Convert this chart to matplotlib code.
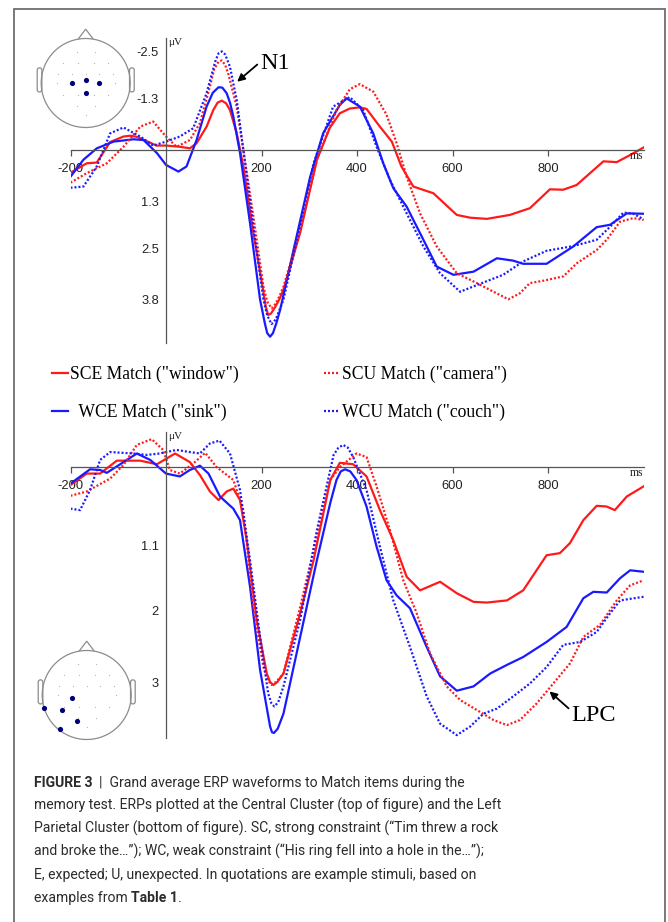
import matplotlib
matplotlib.use("Agg")
import matplotlib.pyplot as plt
from matplotlib.patches import Circle, Polygon, FancyBboxPatch, Rectangle

plt.rcParams['axes.unicode_minus'] = False

W, H = 668, 922

# ---- Central cluster (top panel): time in ms, amplitude in uV ----
c_sce_t = [-200, -166, -145, -117, -89, -75, -60, -20, 0, 29, 50, 64, 85, 99, 108, 117, 126, 134, 148, 162,
           183, 204, 209, 214, 220, 228, 237, 246, 281, 316, 343, 364, 385, 406, 420, 448, 473, 493, 518, 560,
           609, 637, 672, 720, 762, 804, 832, 860, 916, 944, 972, 1000]
c_sce_v = [0.58, 0.34, 0.32, -0.2, -0.34, -0.36, -0.33, -0.11, -0.11, -0.08, -0.04, -0.17, -0.59, -1.01, -1.2,
           -1.25, -1.18, -1.01, -0.43, 0.42, 2.1, 3.6, 3.98, 4.19, 4.15, 4.0, 3.8, 3.55, 2.1, 0.25, -0.56, -0.93,
           -1.05, -1.08, -1.04, -0.59, -0.21, 0.42, 0.93, 1.1, 1.65, 1.72, 1.75, 1.65, 1.48, 1.0, 1.01, 0.89,
           0.29, 0.31, 0.13, -0.06]

c_wce_t = [-200, -173, -145, -110, -68, -47, -19, 0, 26, 43, 64, 85, 98, 110, 118, 127, 134, 141, 155, 176,
           197, 207, 212, 218, 224, 231, 239, 267, 302, 329, 364, 378, 406, 434, 455, 476, 504, 539, 567, 602,
           644, 693, 727, 748, 797, 853, 902, 930, 965, 1000]
c_wce_v = [0.68, 0.25, -0.04, -0.21, -0.27, -0.25, 0.08, 0.38, 0.55, 0.42, -0.25, -1.1, -1.45, -1.59, -1.58,
           -1.44, -1.2, -0.85, 0.08, 1.86, 3.8, 4.4, 4.65, 4.74, 4.65, 4.4, 4.06, 2.54, 0.68, -0.42, -1.14, -1.31,
           -1.1, -0.42, 0.34, 0.97, 1.44, 2.28, 2.96, 3.17, 3.09, 2.75, 2.81, 2.89, 2.89, 2.45, 1.96, 1.9, 1.61,
           1.62]

c_scu_t = [-200, -166, -124, -89, -54, -27, 0, 22, 50, 71, 92, 101, 110, 117, 124, 130, 148, 162, 183, 204,
           212, 221, 230, 238, 246, 281, 316, 357, 385, 406, 434, 462, 483, 504, 532, 567, 609, 651, 686, 717,
           741, 762, 790, 832, 860, 902, 923, 951, 979, 1000]
c_scu_v = [0.83, 0.59, 0.34, -0.08, -0.59, -0.72, -0.34, -0.08, -0.25, -0.68, -1.61, -2.05, -2.24, -2.27, -2.15,
           -1.95, -1.1, 0.0, 1.69, 3.47, 3.85, 4.02, 3.9, 3.7, 3.47, 2.03, 0.25, -1.01, -1.54, -1.67, -1.48, -0.89,
           -0.17, 0.68, 1.61, 2.45, 3.13, 3.38, 3.6, 3.79, 3.64, 3.38, 3.32, 3.21, 2.88, 2.54, 2.28, 1.82, 1.73,
           1.78]

c_wcu_t = [-200, -173, -145, -117, -89, -54, -27, 0, 29, 57, 85, 103, 110, 117, 124, 134, 148, 162, 183, 204,
           212, 221, 230, 238, 246, 274, 309, 350, 385, 413, 441, 469, 504, 539, 574, 616, 651, 706, 748, 797,
           853, 902, 930, 958, 979, 1000]
c_wcu_v = [0.96, 0.93, 0.42, -0.42, -0.57, -0.34, -0.11, -0.21, -0.34, -0.55, -1.44, -2.24, -2.45, -2.5, -2.42,
           -2.11, -1.27, 0.0, 1.95, 3.8, 4.2, 4.42, 4.3, 4.05, 3.8, 2.28, 0.34, -1.1, -1.34, -1.01, -0.08, 0.76,
           1.61, 2.45, 3.13, 3.6, 3.43, 3.17, 2.83, 2.56, 2.44, 2.28, 1.95, 1.59, 1.62, 1.76]

# ---- Left parietal cluster (bottom panel) ----
p_sce_t = [-200, -166, -138, -103, -54, -19, 19, 50, 71, 92, 110, 127, 141, 155, 169, 190, 211, 218, 225, 233,
           246, 281, 309, 344, 364, 392, 420, 448, 476, 504, 532, 574, 609, 644, 672, 714, 748, 776, 797, 825,
           846, 874, 902, 923, 940, 965, 1000]
p_sce_v = [0.25, 0.09, 0.09, -0.09, -0.09, -0.04, -0.19, -0.07, 0.11, 0.34, 0.46, 0.34, 0.3, 0.46, 1.02, 2.13,
           2.88, 3.0, 3.04, 3.0, 2.88, 2.04, 1.3, 0.18, -0.06, -0.04, 0.13, 0.6, 1.02, 1.53, 1.72, 1.6, 1.76,
           1.88, 1.89, 1.86, 1.72, 1.44, 1.23, 1.2, 1.06, 0.74, 0.54, 0.55, 0.6, 0.41, 0.27]

p_wce_t = [-200, -159, -138, -124, -89, -61, -33, 0, 29, 50, 71, 89, 113, 141, 155, 176, 197, 218, 222, 226,
           234, 246, 281, 316, 344, 357, 366, 375, 386, 399, 420, 441, 462, 483, 511, 546, 574, 609, 644, 679,
           714, 748, 797, 839, 874, 895, 923, 951, 972, 1000]
p_wce_v = [0.23, 0.03, 0.04, 0.08, -0.07, -0.19, -0.1, 0.09, 0.13, 0.04, -0.02, 0.09, 0.41, 0.58, 0.74, 1.67,
           2.83, 3.62, 3.7, 3.71, 3.65, 3.44, 2.37, 1.3, 0.5, 0.18, 0.06, 0.03, 0.06, 0.18, 0.55, 1.11, 1.58,
           1.79, 1.97, 2.51, 2.92, 3.12, 3.06, 2.88, 2.76, 2.65, 2.44, 2.23, 1.83, 1.74, 1.75, 1.55, 1.44, 1.46]

p_scu_t = [-200, -166, -117, -89, -61, -30, -6, 8, 29, 57, 82, 106, 141, 162, 183, 204, 213, 221, 230, 246,
           281, 316, 344, 364, 399, 420, 441, 469, 497, 525, 553, 588, 616, 651, 686, 714, 741, 776, 811, 846,
           874, 909, 944, 972, 1000]
p_scu_v = [0.4, 0.34, 0.16, -0.03, -0.31, -0.39, -0.24, 0.04, 0.09, -0.05, -0.2, 0.0, 0.18, 0.6, 1.95, 2.79,
           2.97, 3.04, 3.0, 2.88, 1.95, 0.97, 0.18, 0.0, -0.19, -0.14, 0.27, 0.88, 1.58, 2.04, 2.6, 3.06, 3.25,
           3.39, 3.53, 3.6, 3.53, 3.3, 3.02, 2.74, 2.37, 2.2, 1.86, 1.65, 1.58]

p_wcu_t = [-200, -180, -159, -138, -117, -68, -40, -13, 22, 50, 71, 92, 112, 134, 155, 176, 197, 214, 221, 227,
           235, 246, 281, 316, 351, 361, 371, 381, 392, 420, 448, 476, 511, 546, 574, 609, 637, 665, 693, 727,
           762, 797, 832, 867, 902, 930, 951, 1000]
p_wcu_v = [0.58, 0.6, 0.32, -0.1, -0.21, -0.19, -0.17, -0.19, -0.24, -0.21, -0.19, -0.33, -0.37, -0.19, 0.32,
           1.3, 2.37, 3.16, 3.3, 3.34, 3.28, 3.06, 2.13, 0.88, -0.17, -0.27, -0.31, -0.27, -0.14, 0.32, 1.11,
           1.86, 2.51, 3.2, 3.58, 3.74, 3.62, 3.44, 3.37, 3.2, 3.02, 2.79, 2.48, 2.44, 2.3, 2.04, 1.86, 1.81]

labels = ['SCE Match ("window")', '  WCE Match ("sink")', 'SCU Match ("camera")', 'WCU Match ("couch")']
top_yticks = [-2.5, -1.3, 1.3, 2.5, 3.8]
bot_yticks = [1.1, 2, 3]
xticks = [-200, 200, 400, 600, 800]

# electrode layout in head units (y up), shared grid plus highlighted sites per cluster
grid_x = [-0.2, 0.2, -0.51, -0.18, 0.18, 0.51, -0.62, -0.3, 0.0, 0.3, 0.62, -0.65, 0.65,
          -0.51, -0.18, 0.18, 0.51, -0.2, 0.2, 0.0]
grid_y = [0.69, 0.69, 0.44, 0.44, 0.44, 0.44, 0.21, 0.21, 0.21, 0.21, 0.21, 0.0, 0.0,
          -0.27, -0.27, -0.27, -0.27, -0.51, -0.51, -0.72]
central_x = [-0.3, 0.0, 0.31, 0.0]
central_y = [0.0, 0.07, 0.0, -0.23]
parietal_x = [-0.34, -0.96, -0.55, -0.21, -0.61]
parietal_y = [-0.07, -0.29, -0.34, -0.58, -0.77]

RED, BLUE = '#ff1a1a', '#1a1aff'
DOTS = (0, (0.9, 0.9))
serif = 'Liberation Serif'
sans = 'Liberation Sans'


def px_box(x0, y0, x1, y1):
    return [x0 / W, 1 - y1 / H, (x1 - x0) / W, (y1 - y0) / H]


fig = plt.figure(figsize=(W / 100, H / 100), dpi=100)


def erp_panel(rect, ylim, yticks, series):
    ax = fig.add_axes(rect)
    ax.patch.set_alpha(0)
    lines = []
    for t, v, col, ls in series:
        ln, = ax.plot(t, v, color=col, lw=1.6, linestyle=ls, solid_joinstyle='round')
        lines.append(ln)
    ax.set_xlim(-200, 1000)
    ax.set_ylim(*ylim)
    for s in ['top', 'right']:
        ax.spines[s].set_visible(False)
    ax.spines['left'].set_position(('data', 0))
    ax.spines['bottom'].set_position(('data', 0))
    for s in ['left', 'bottom']:
        ax.spines[s].set_color('#555555')
        ax.spines[s].set_linewidth(0.9)
    ax.set_xticks(xticks)
    ax.set_yticks(yticks)
    ax.set_yticklabels([str(y) for y in yticks])
    ax.tick_params(axis='x', direction='out', length=4.3, width=0.9, pad=5, color='#555555',
                   labelsize=9.3, labelcolor='#222222')
    ax.tick_params(axis='y', length=0, pad=5, labelsize=9.3, labelcolor='#222222')
    for lab in ax.get_xticklabels() + ax.get_yticklabels():
        lab.set_family(sans)
    ax.text(4, ylim[1], 'μV', family=serif, fontsize=8, va='top', ha='left', color='#222222')
    ax.text(1000, 0, 'ms', family=serif, fontsize=8.5, va='top', ha='right', color='#222222')
    return ax, lines


top, handles = erp_panel(px_box(70.5, 38, 643.5, 343), (4.9, -2.84), top_yticks,
                         [(c_sce_t, c_sce_v, RED, '-'), (c_wce_t, c_wce_v, BLUE, '-'),
                          (c_scu_t, c_scu_v, RED, DOTS), (c_wcu_t, c_wcu_v, BLUE, DOTS)])
bot, _ = erp_panel(px_box(70.5, 432, 643.5, 738), (3.78, -0.49), bot_yticks,
                   [(p_sce_t, p_sce_v, RED, '-'), (p_wce_t, p_wce_v, BLUE, '-'),
                    (p_scu_t, p_scu_v, RED, DOTS), (p_wcu_t, p_wcu_v, BLUE, DOTS)])

arrow = dict(arrowstyle='-|>', color='black', lw=1.3, mutation_scale=11, shrinkA=0, shrinkB=0)
top.annotate('N1', xy=(149, -1.73), xytext=(197, -2.2), family=serif, fontsize=17.5,
             va='center', ha='left', arrowprops=dict(arrow, relpos=(0, 0.55)))
bot.annotate('LPC', xy=(803, 3.13), xytext=(849, 3.46), family=serif, fontsize=17.5,
             va='center', ha='left', arrowprops=dict(arrow, relpos=(0, 0.7)))

fig.legend(handles, labels, ncol=2, loc='upper left',
           bbox_to_anchor=(52 / W, 1 - 366 / H), frameon=False, borderpad=0, borderaxespad=0,
           prop={'family': serif, 'size': 12.7}, handlelength=0.9, handletextpad=0.12,
           columnspacing=4.85, labelspacing=1.17)


def head(cx, cy, sx, sy):
    r = 44.5
    ax = fig.add_axes(px_box(cx - 1.3 * r, cy - 1.3 * r, cx + 1.3 * r, cy + 1.3 * r))
    ax.set_xlim(-1.3, 1.3)
    ax.set_ylim(-1.3, 1.3)
    ax.axis('off')
    edge = '#8c8c8c'
    ax.add_patch(Circle((0, 0), 1, fill=False, ec=edge, lw=0.9))
    ax.add_patch(Polygon([(-0.17, 0.985), (0, 1.21), (0.17, 0.985)], closed=False,
                         fill=False, ec=edge, lw=0.9))
    for x0 in (-1.09, 0.985):
        ax.add_patch(FancyBboxPatch((x0, -0.2), 0.105, 0.54, boxstyle='round,pad=0,rounding_size=0.05',
                                    fill=False, ec=edge, lw=0.9))
    ax.scatter(grid_x, grid_y, s=0.8, c='#b5b5b5', lw=0)
    ax.scatter(sx, sy, s=14, c='#00007a', lw=0, zorder=3)


head(85.7, 83, central_x, central_y)
head(86.7, 695, parietal_x, parietal_y)

# outer frame around figure and caption
fig.add_artist(Rectangle((14 / W, -0.02), (665 - 14) / W, 1.02 - 9 / H, transform=fig.transFigure,
                         fill=False, ec='#6e6e6e', lw=1.3, clip_on=False))

caption = [
    'memory test. ERPs plotted at the Central Cluster (top of figure) and the Left',
    'Parietal Cluster (bottom of figure). SC, strong constraint (\u201cTim threw a rock',
    'and broke the\u2026\u201d); WC, weak constraint (\u201cHis ring fell into a hole in the\u2026\u201d);',
    'E, expected; U, unexpected. In quotations are example stimuli, based on',
]
cap = dict(family=['Roboto', 'DejaVu Sans'], fontsize=10.1, color='#2b2b2b')
x0 = 34 / W
t = fig.text(x0, 1 - 790 / H, 'FIGURE 3', weight='bold', va='bottom', **cap)
plt.annotate('  |  Grand average ERP waveforms to Match items during the', xy=(1, 0), xycoords=t,
             va='bottom', ha='left', **cap)
for i, line in enumerate(caption):
    fig.text(x0, 1 - (813 + 23 * i) / H, line, va='bottom', **cap)
t = fig.text(x0, 1 - 905 / H, 'examples from ', va='bottom', **cap)
t = plt.annotate('Table 1', xy=(1, 0), xycoords=t, va='bottom', ha='left', weight='bold', **cap)
plt.annotate('.', xy=(1, 0), xycoords=t, va='bottom', ha='left', **cap)

fig.savefig('out.png', dpi=100)
